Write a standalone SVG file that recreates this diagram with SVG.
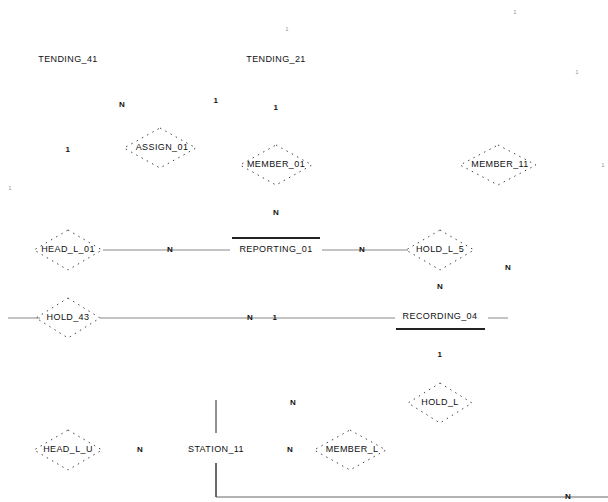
<svg xmlns="http://www.w3.org/2000/svg" width="608" height="502" viewBox="0 0 608 502">
<style>
text{font-family:"Liberation Sans",Arial,sans-serif;font-size:9px;fill:#111;text-anchor:middle;dominant-baseline:middle;letter-spacing:0.4px}
.m{font-size:8px;font-weight:bold}
.s{font-size:6px;fill:#999}
.rel polygon{fill:none;stroke:#444;stroke-width:1;stroke-dasharray:1.5 4.5}
.ln{stroke:#888;stroke-width:1;fill:none}
.ul{stroke:#222;stroke-width:2}
</style>
<rect width="608" height="502" fill="#fff"/>
<g id="connectors">
<line class="ln" x1="103" y1="250" x2="230" y2="250"/>
<line class="ln" x1="322" y1="250" x2="408" y2="250"/>
<line class="ln" x1="8" y1="318" x2="40" y2="318"/>
<line class="ln" x1="100" y1="318" x2="395" y2="318"/>
<line class="ln" x1="488" y1="318" x2="508" y2="318"/>
<line x1="216" y1="400" x2="216" y2="433" stroke="#222" stroke-width="1"/>
<polyline points="216,463 216,497 608,497" fill="none" stroke="#666" stroke-width="1"/>
<line x1="216" y1="463" x2="216" y2="497" stroke="#222" stroke-width="1"/>
</g>
<g id="e1"><text x="68" y="60">TENDING_41</text></g>
<g id="e2"><text x="276" y="60">TENDING_21</text></g>
<g id="e3"><line class="ul" x1="232" y1="238" x2="320" y2="238"/><text x="276" y="250">REPORTING_01</text></g>
<g id="e4"><text x="440" y="317">RECORDING_04</text><line class="ul" x1="396" y1="329" x2="485" y2="329"/></g>
<g id="e5"><text x="216" y="450">STATION_11</text></g>
<g id="r1" class="rel"><polygon points="160,128 196,148 160,168 124,148"/><text x="162" y="148">ASSIGN_01</text></g>
<g id="r2" class="rel"><polygon points="276,145 312,165 276,185 240,165"/><text x="276" y="165">MEMBER_01</text></g>
<g id="r3" class="rel"><polygon points="498,145 536,165 498,185 460,165"/><text x="500" y="165">MEMBER_11</text></g>
<g id="r4" class="rel"><polygon points="68,230 102,250 68,270 34,250"/><text x="68" y="250">HEAD_L_01</text></g>
<g id="r5" class="rel"><polygon points="440,230 474,250 440,270 406,250"/><text x="440" y="250">HOLD_L_5</text></g>
<g id="r6" class="rel"><polygon points="68,298 100,318 68,338 36,318"/><text x="68" y="318">HOLD_43</text></g>
<g id="r7" class="rel"><polygon points="440,383 472,403 440,423 408,403"/><text x="440" y="403">HOLD_L</text></g>
<g id="r8" class="rel"><polygon points="68,430 102,450 68,470 34,450"/><text x="68" y="450">HEAD_L_U</text></g>
<g id="r9" class="rel"><polygon points="350,430 386,450 350,470 314,450"/><text x="352" y="450">MEMBER_L</text></g>
<g id="labels">
<text class="m" x="122" y="105">N</text>
<text class="m" x="216" y="101">1</text>
<text class="m" x="276" y="108">1</text>
<text class="m" x="68" y="150">1</text>
<text class="m" x="276" y="213">N</text>
<text class="m" x="170" y="250">N</text>
<text class="m" x="362" y="250">N</text>
<text class="m" x="508" y="268">N</text>
<text class="m" x="440" y="287">N</text>
<text class="m" x="250" y="318">N</text>
<text class="m" x="275" y="318">1</text>
<text class="m" x="440" y="355">1</text>
<text class="m" x="293" y="403">N</text>
<text class="m" x="140" y="450">N</text>
<text class="m" x="290" y="450">N</text>
<text class="m" x="568" y="497">N</text>
<text class="s" x="287" y="29">1</text>
<text class="s" x="515" y="12">1</text>
<text class="s" x="577" y="72">1</text>
<text class="s" x="603" y="165">1</text>
<text class="s" x="10" y="188">1</text>
</g>
</svg>
